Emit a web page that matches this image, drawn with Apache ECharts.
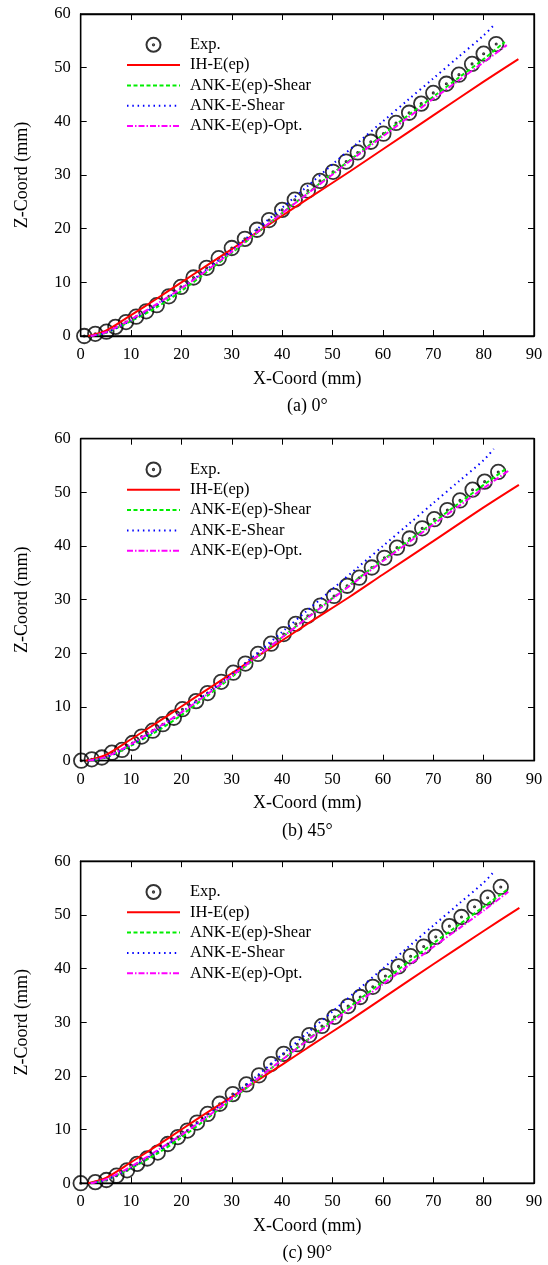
<!DOCTYPE html>
<html>
<head>
<meta charset="utf-8">
<script src="https://cdn.jsdelivr.net/npm/echarts@6/dist/echarts.min.js"></script>
<style>
html,body{margin:0;padding:0;background:#fff;}
#chart{width:548px;height:1265px;}
</style>
</head>
<body>
<div id="chart"></div>
<script>
// ---------- data ----------
const seriesNames = ['Exp.', 'IH-E(ep)', 'ANK-E(ep)-Shear', 'ANK-E-Shear', 'ANK-E(ep)-Opt.'];
const captions = ['(a) 0°', '(b) 45°', '(c) 90°'];
const xTitle = 'X-Coord (mm)';
const yTitle = 'Z-Coord (mm)';

// (a) 0°
const expA = [[0.7,0],[2.9,0.4],[5.1,0.8],[6.9,1.7],[9.0,2.6],[11.0,3.6],[13.0,4.6],[15.1,5.75],[17.5,7.4],[19.9,9.15],[22.4,10.9],[25.0,12.7],[27.4,14.5],[30.0,16.4],[32.6,18.1],[35.0,19.8],[37.4,21.6],[40.0,23.5],[42.5,25.4],[45.1,27.1],[47.5,28.9],[50.1,30.6],[52.7,32.5],[55.0,34.2],[57.6,36.2],[60.1,37.7],[62.6,39.7],[65.2,41.6],[67.6,43.3],[70.0,45.3],[72.6,47.0],[75.1,48.7],[77.7,50.7],[80.0,52.6],[82.5,54.4]];
const ihA = [[1.5,0],[5,1.0],[10,3.9],[15,6.9],[20,10.0],[25,13.1],[30,16.2],[35,19.3],[40,22.4],[45,25.5],[53.5,30.7],[60,34.8],[70,41.1],[80,47.4],[86.9,51.6]];
const ankEpShearA = [[2,0],[5,0.6],[10,2.8],[15,5.3],[20,8.4],[25,11.9],[30,15.5],[35,19.2],[40,22.9],[45,26.6],[50,30.3],[55,33.9],[60,37.5],[65,41.1],[70,44.6],[75,48.1],[80,51.6],[84.2,54.8]];
const ankEShearA = [[2,0],[5,0.6],[10,2.9],[15,5.7],[20,8.9],[25,12.4],[30,16.0],[35,19.9],[40,23.9],[45,27.9],[50,32.0],[55,36.0],[60,40.0],[65,44.0],[70,48.0],[75,52.0],[80,56.0],[82.2,58.1]];
const ankOptA = [[2,0],[5,0.7],[10,3.1],[15,5.9],[20,8.9],[25,12.2],[30,15.7],[35,19.3],[40,22.9],[45,26.5],[50,30.1],[55,33.7],[60,37.2],[65,40.7],[70,44.2],[75,47.6],[80,51.0],[84.6,54.2]];

// (b) 45°
const expB = [[0.1,0],[2.2,0.25],[4.2,0.6],[6.2,1.5],[8.2,2.0],[10.3,3.3],[12.1,4.5],[14.3,5.6],[16.3,6.8],[18.5,8.0],[20.2,9.6],[22.9,11.1],[25.2,12.6],[27.9,14.7],[30.3,16.4],[32.7,18.1],[35.2,19.9],[37.8,21.8],[40.3,23.6],[42.7,25.5],[45.1,27.0],[47.6,28.9],[50.3,30.7],[52.9,32.6],[55.3,34.1],[57.8,36.0],[60.3,37.8],[62.8,39.7],[65.3,41.4],[67.8,43.3],[70.2,45.0],[72.8,46.7],[75.3,48.5],[77.8,50.5],[80.2,52.0],[82.9,53.8]];
const ihB = [[1.0,0],[5,1.1],[10,4.0],[15,7.0],[20,10.1],[25,13.2],[30,16.3],[35,19.4],[40,22.4],[45,25.5],[53.5,30.6],[60,34.7],[70,40.9],[80,47.2],[87.0,51.4]];
const ankEpShearB = [[1.5,0],[5,0.6],[10,2.8],[15,5.4],[20,8.5],[25,12.0],[30,15.6],[35,19.3],[40,23.0],[45,26.7],[50,30.3],[55,33.9],[60,37.4],[65,40.9],[70,44.4],[75,47.9],[80,51.4],[84.6,54.5]];
const ankEShearB = [[1.5,0],[5,0.6],[10,2.9],[15,5.7],[20,9.0],[25,12.5],[30,16.1],[35,20.0],[40,24.0],[45,28.0],[50,32.0],[55,36.0],[60,40.0],[65,44.0],[70,48.0],[75,52.0],[80,56.0],[82.0,58.1]];
const ankOptB = [[1.5,0],[5,0.7],[10,3.1],[15,6.0],[20,9.0],[25,12.3],[30,15.8],[35,19.4],[40,23.0],[45,26.6],[50,30.2],[55,33.7],[60,37.2],[65,40.6],[70,44.0],[75,47.4],[80,50.8],[84.9,54.0]];

// (c) 90°
const expC = [[0,0],[2.9,0.2],[5.1,0.6],[7.1,1.4],[9.2,2.4],[11.2,3.6],[13.2,4.6],[15.3,5.7],[17.3,7.3],[19.3,8.6],[21.2,9.8],[23.1,11.3],[25.2,12.9],[27.6,14.8],[30.2,16.6],[32.9,18.4],[35.4,20.1],[37.8,22.2],[40.3,24.1],[43.0,25.9],[45.4,27.6],[47.9,29.3],[50.4,31.0],[53.1,33.0],[55.5,34.7],[58.0,36.6],[60.5,38.6],[63.1,40.4],[65.5,42.3],[68.1,44.1],[70.5,45.9],[73.2,47.9],[75.6,49.6],[78.2,51.5],[80.8,53.2],[83.4,55.2]];
const ihC = [[1.5,0],[5,1.0],[10,3.9],[15,6.9],[20,10.0],[25,13.1],[30,16.1],[35,19.1],[40,22.1],[45,25.2],[53.5,30.4],[60,34.5],[70,40.8],[80,47.0],[87.1,51.3]];
const ankEpShearC = [[2,0],[5,0.6],[10,2.8],[15,5.4],[20,8.5],[25,12.0],[30,15.6],[35,19.3],[40,23.0],[45,26.7],[50,30.4],[55,34.0],[60,37.6],[65,41.2],[70,44.7],[75,48.1],[80,51.5],[84.7,54.7]];
const ankEShearC = [[2,0],[5,0.6],[10,2.9],[15,5.8],[20,9.0],[25,12.5],[30,16.2],[35,20.0],[40,24.0],[45,28.0],[50,32.0],[55,36.0],[60,40.0],[65,44.0],[70,48.0],[75,52.0],[80,56.0],[82.0,58.0]];
const ankOptC = [[2,0],[5,0.7],[10,3.1],[15,6.0],[20,9.0],[25,12.3],[30,15.8],[35,19.4],[40,23.0],[45,26.6],[50,30.1],[55,33.6],[60,37.1],[65,40.5],[70,44.0],[75,47.4],[80,50.8],[84.9,54.3]];

const panels = [
  {exp: expA, ih: ihA, epShear: ankEpShearA, eShear: ankEShearA, opt: ankOptA},
  {exp: expB, ih: ihB, epShear: ankEpShearB, eShear: ankEShearB, opt: ankOptB},
  {exp: expC, ih: ihC, epShear: ankEpShearC, eShear: ankEShearC, opt: ankOptC}
];

// ---------- layout ----------
const FONT = 'Liberation Serif';
const gridLeft = 80.7, gridWidth = 453.3, gridHeight = 322;
const gridTops = [14, 438.7, 861.2];
const circlePath = 'path://M0,-10A10,10,0,1,1,0,10A10,10,0,1,1,0,-10ZM0,-0.9A0.9,0.9,0,1,1,0,0.9A0.9,0.9,0,1,1,0,-0.9Z';
const hiddenIcon = {color: 'rgba(0,0,0,0)', borderColor: 'rgba(0,0,0,0)', borderWidth: 0, opacity: 0};

const grids = [], xAxes = [], yAxes = [], legends = [], titles = [], series = [];

panels.forEach((p, i) => {
  const top = gridTops[i];
  grids.push({left: gridLeft, top: top, width: gridWidth, height: gridHeight, show: true,
    borderColor: '#000', borderWidth: 1.3, backgroundColor: 'transparent'});
  const xBase = {gridIndex: i, type: 'value', min: 0, max: 90, interval: 10,
    splitLine: {show: false},
    axisLine: {show: true, onZero: false, lineStyle: {color: '#000', width: 1.3}},
    axisTick: {show: true, inside: true, length: 6, lineStyle: {color: '#000', width: 1}}};
  const yBase = {gridIndex: i, type: 'value', min: 0, max: 60, interval: 10,
    splitLine: {show: false},
    axisLine: {show: true, onZero: false, lineStyle: {color: '#000', width: 1.3}},
    axisTick: {show: true, inside: true, length: 6, lineStyle: {color: '#000', width: 1}}};
  xAxes.push(Object.assign({}, xBase, {position: 'bottom',
    name: xTitle, nameLocation: 'middle', nameGap: 34,
    nameTextStyle: {fontFamily: FONT, fontSize: 18, color: '#000'},
    axisLabel: {fontFamily: FONT, fontSize: 16.5, color: '#000', margin: 10}}));
  xAxes.push(Object.assign({}, xBase, {position: 'top', axisLabel: {show: false}}));
  yAxes.push(Object.assign({}, yBase, {position: 'left',
    name: yTitle, nameLocation: 'middle', nameGap: 49,
    nameTextStyle: {fontFamily: FONT, fontSize: 18, color: '#000'},
    axisLabel: {fontFamily: FONT, fontSize: 16.5, color: '#000', margin: 10}}));
  yAxes.push(Object.assign({}, yBase, {position: 'right', axisLabel: {show: false}}));

  legends.push({
    orient: 'vertical', left: 126, top: top + 22.3, itemWidth: 53, itemHeight: 14, itemGap: 3.3,
    padding: 0, selectedMode: false,
    data: seriesNames.map((n, k) => k === 0 ? {name: n} : {name: n, itemStyle: hiddenIcon}),
    textStyle: {fontFamily: FONT, fontSize: 16.5, color: '#000', padding: [2, 0, 0, 5]}
  });
  titles.push({text: captions[i], left: gridLeft + gridWidth / 2, textAlign: 'center',
    top: top + gridHeight + 61.5, padding: 0,
    textStyle: {fontFamily: FONT, fontSize: 18, fontWeight: 'normal', color: '#000', lineHeight: 18}});

  const xi = i * 2, yi = i * 2;
  series.push({name: seriesNames[0], type: 'scatter', xAxisIndex: xi, yAxisIndex: yi,
    data: p.exp, symbol: circlePath, symbolSize: 14.5, symbolKeepAspect: true,
    itemStyle: {color: 'rgba(0,0,0,0)', borderColor: '#000', borderWidth: 1.8}});
  const lineDefs = [
    [p.ih, '#ff0000', 'solid', 2],
    [p.epShear, '#00ee00', [4, 2.5], 2],
    [p.eShear, '#0000ff', [1.5, 3.8], 2],
    [p.opt, '#ff00ff', [6, 2, 1.5, 2], 2]
  ];
  lineDefs.forEach((d, k) => {
    series.push({name: seriesNames[k + 1], type: 'line', xAxisIndex: xi, yAxisIndex: yi,
      data: d[0], symbol: 'none', smooth: 0.3,
      lineStyle: {color: d[1], type: d[2], width: d[3]},
      itemStyle: {color: d[1]}});
  });
});

const chart = echarts.init(document.getElementById('chart'), null, {renderer: 'canvas'});
chart.setOption({
  animation: false,
  backgroundColor: '#fff',
  title: titles,
  legend: legends,
  grid: grids,
  xAxis: xAxes,
  yAxis: yAxes,
  series: series
});
</script>
</body>
</html>
